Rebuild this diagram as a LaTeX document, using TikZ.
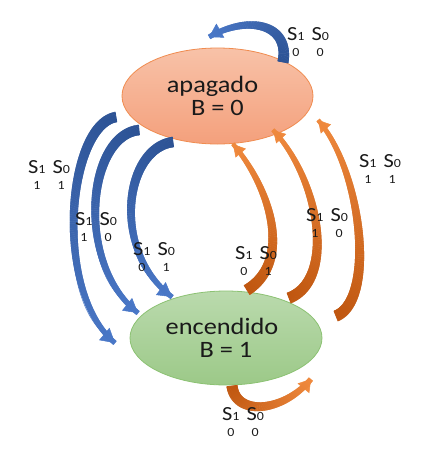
\documentclass[tikz,border=0pt]{standalone}
\usepackage{fontspec}
\setmainfont[FakeStretch=1.12]{Carlito}
\usetikzlibrary{shapes.geometric,decorations.markings,arrows.meta}
\definecolor{bdark}{HTML}{2C5294}
\definecolor{blight}{HTML}{4A78C8}
\definecolor{odark}{HTML}{BF560F}
\definecolor{olight}{HTML}{F08A3E}
\definecolor{apTop}{HTML}{F8C2A8}
\definecolor{apBot}{HTML}{F4A07C}
\definecolor{apBorder}{HTML}{F08C50}
\definecolor{enTop}{HTML}{BADAAD}
\definecolor{enBot}{HTML}{9CC988}
\definecolor{enBorder}{HTML}{8CC273}
\definecolor{txt}{HTML}{1A1A1A}
\newcommand\tapermark[4]{%
  \pgfmathsetmacro\tpf{\pgfkeysvalueof{/pgf/decoration/mark info/distance from start}/\pgfdecoratedpathlength}%
  \pgfmathsetmacro\tpr{#1+(#2-#1)*\tpf}%
  \pgfmathtruncatemacro\tpc{100*(1-\tpf)}%
  \fill[#3!\tpc!#4] (-0.4pt,-\tpr pt) rectangle (0.4pt,\tpr pt);}
\newcommand\sdig[1]{{\fontsize{12.5}{12.5}\selectfont #1}}
\newcommand\slbl[2]{\fontsize{20}{16.5}\selectfont\begin{tabular}[t]{@{}c@{\hspace{7pt}}c@{}}S\sdig{1} & S\sdig{0}\\ \sdig{#1} & \sdig{#2}\end{tabular}}
\tikzset{
  tarrow/.style n args={6}{draw=#4, line width=0.5pt, -{Triangle[width=#5pt,length=#6pt]},
     postaction={decorate,decoration={markings,
     mark=between positions 0 and 1 step 0.4pt with {\tapermark{#1}{#2}{#3}{#4}}}}},
  bluearrow/.style={tarrow={5.2}{2.4}{bdark}{blight}{16}{14}},
  orangearrow/.style={tarrow={5.6}{2.0}{odark}{olight}{13.5}{12}},
  state/.style={ellipse, line width=0.8pt, align=center, text=txt, inner sep=0pt,
     font=\fontsize{23.5}{23}\selectfont},
  lbl/.style={anchor=base west, inner sep=0pt, text=txt},
}
\begin{document}
\begin{tikzpicture}[x=1pt,y=-1pt]
\useasboundingbox (0,0) rectangle (430,451);
\fill[white] (0,0) rectangle (430,451);
% states
\node[state, minimum width=191pt, minimum height=96pt, top color=apTop, bottom color=apBot, draw=apBorder] (apagado) at (217.5,96) {apagado\hspace*{10pt}\\B = 0};
\node[state, minimum width=192pt, minimum height=94pt, top color=enTop, bottom color=enBot, draw=enBorder] (encendido) at (226,338) {encendido\hspace*{8pt}\\B = 1};
% endpoints
\coordinate (t0s) at (283,62);  \coordinate (t0e) at (209,37);
\coordinate (a1s) at (116,117); \coordinate (a1e) at (115,343);
\coordinate (a2s) at (139,130); \coordinate (a2e) at (138,313);
\coordinate (a3s) at (173,142); \coordinate (a3e) at (172,297);
\coordinate (b1s) at (247,290); \coordinate (b1e) at (233,144);
\coordinate (b2s) at (289,298); \coordinate (b2e) at (273,130);
\coordinate (b3s) at (336,316); \coordinate (b3e) at (318,120);
\coordinate (e0s) at (232,386); \coordinate (e0e) at (311,379);
% arrows
\draw[tarrow={5.5}{2.4}{bdark}{blight}{16}{13}] (t0s) .. controls (290,25) and (250,14) .. (t0e);
\draw[bluearrow] (a1s) .. controls (68,125) and (52,290) .. (a1e);
\draw[bluearrow] (a2s) .. controls (88,135) and (74,262) .. (a2e);
\draw[bluearrow] (a3s) .. controls (125,148) and (110,250) .. (a3e);
\draw[orangearrow] (b1s) .. controls (292,262) and (272,190) .. (b1e);
\draw[orangearrow] (b2s) .. controls (336,280) and (320,180) .. (b2e);
\draw[orangearrow] (b3s) .. controls (376,300) and (362,170) .. (b3e);
\draw[tarrow={5.5}{2.6}{odark}{olight}{15}{12}] (e0s) .. controls (236,417) and (284,412) .. (e0e);
% labels
\node[lbl] (l0) at (287,40) {\slbl{0}{0}};
\node[lbl] (l1) at (28,173) {\slbl{1}{1}};
\node[lbl] (l2) at (75,225) {\slbl{1}{0}};
\node[lbl] (l3) at (133,255) {\slbl{0}{1}};
\node[lbl] (l4) at (235,259) {\slbl{0}{1}};
\node[lbl] (l5) at (306,221) {\slbl{1}{0}};
\node[lbl] (l6) at (359,167) {\slbl{1}{1}};
\node[lbl] (l7) at (222,420) {\slbl{0}{0}};
\end{tikzpicture}
\end{document}
